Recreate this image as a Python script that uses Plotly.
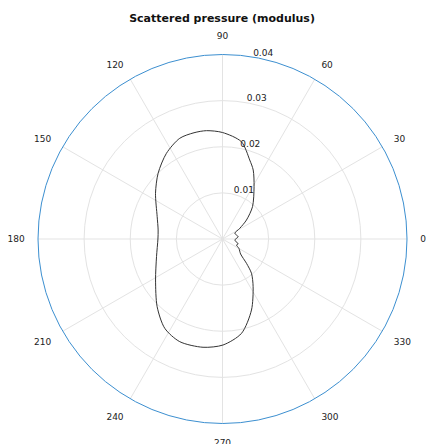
import plotly.graph_objects as go

# Far-field pattern of the scattered pressure: angle (deg) and |p| samples
theta_deg = [0, 8.4, 24.8, 31.7, 38.4, 47.1, 58.9, 66, 71, 79, 90, 98.4, 105, 113,
             123.2, 134.4, 145.7, 161, 172, 180, 195, 211.5, 226, 237.1, 247.4,
             259.8, 270.3, 281.4, 292.2, 302.7, 310.2, 314.6, 320.4, 330, 337,
             342.2, 355.4, 360]
p_modulus = [0.00286, 0.00343, 0.00295, 0.00440, 0.00663, 0.00956, 0.01325, 0.01637,
             0.01812, 0.02148, 0.02309, 0.02374, 0.02385, 0.02372, 0.02220, 0.01995,
             0.01758, 0.01498, 0.01409, 0.01400, 0.01481, 0.01702, 0.02040, 0.02305,
             0.02411, 0.02385, 0.02298, 0.02086, 0.01663, 0.01229, 0.00973, 0.00741,
             0.00509, 0.00412, 0.00330, 0.00356, 0.00267, 0.00286]

angle_ticks = list(range(0, 360, 30))
radial_ticks = [0.01, 0.02, 0.03, 0.04]
radial_label_angle = 82

fig = go.Figure()
fig.add_trace(go.Scatterpolar(
    r=p_modulus, theta=theta_deg, mode="lines",
    line=dict(color="#333333", width=1, shape="spline", smoothing=0.8),
    showlegend=False,
))

fig.update_layout(
    width=427, height=444,
    margin=dict(l=0, r=0, t=0, b=0),
    paper_bgcolor="white",
    font=dict(family="DejaVu Sans", size=9, color="#222222"),
    title=dict(text="<b>Scattered pressure (modulus)</b>", x=0.52, xanchor="center",
               y=0.96, yanchor="middle", font=dict(size=11, color="#111111")),
    polar=dict(
        domain=dict(x=[38/427, 407/427], y=[20/444, 390/444]),
        bgcolor="white",
        angularaxis=dict(
            rotation=0, direction="counterclockwise",
            tickmode="array", tickvals=angle_ticks,
            ticktext=[str(a) for a in angle_ticks],
            ticks="outside", ticklen=11, tickcolor="rgba(0,0,0,0)",
            showline=True, linecolor="#3c8fd0", linewidth=1,
            gridcolor="#e3e3e3", gridwidth=1,
            tickfont=dict(size=9),
        ),
        radialaxis=dict(
            range=[0, 0.04], tickmode="array", tickvals=radial_ticks,
            # trailing blank line lifts each label above its ring
            ticktext=[f"{v:.2f}<br>&nbsp;" for v in radial_ticks],
            angle=radial_label_angle, side="clockwise",
            tickangle=radial_label_angle, showline=False, ticks="",
            gridcolor="#e3e3e3", gridwidth=1,
            tickfont=dict(size=9),
        ),
    ),
)

fig.write_html("out.html")
